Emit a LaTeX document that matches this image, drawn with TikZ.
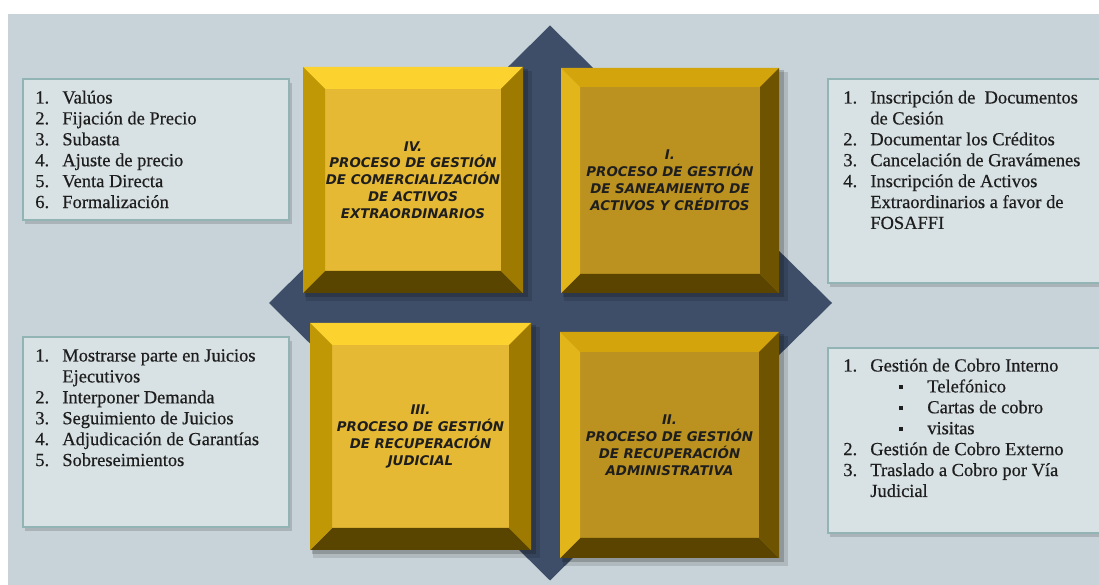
\documentclass[tikz,border=0pt]{standalone}
\usepackage{fontspec}
\setmainfont{Liberation Serif}
\newfontfamily\listfont{Liberation Serif}[FakeBold=0.5]
\newfontfamily\blockfont{DejaVu Sans}
\definecolor{backdrop}{HTML}{C8D3D9}
\definecolor{panel}{HTML}{D8E1E3}
\definecolor{panelline}{HTML}{93B4B5}
\definecolor{slate}{HTML}{3E4E68}
\definecolor{ink}{HTML}{1E1E1E}
\definecolor{goldface}{HTML}{E6B935}
\definecolor{goldtop}{HTML}{FCD22E}
\definecolor{goldleft}{HTML}{C09806}
\definecolor{goldright}{HTML}{9E7A00}
\definecolor{goldbottom}{HTML}{5A4500}
\definecolor{ochreface}{HTML}{BB9120}
\definecolor{ochretop}{HTML}{D4A40C}
\definecolor{ochreleft}{HTML}{E2B51A}
\definecolor{ochreright}{HTML}{6E5300}
\definecolor{ochrebottom}{HTML}{5A4400}
% bevelled block: x0, y0, x1, y1, colour set, bevel width
\newcommand{\bevelblock}[6]{%
  \fill[black,opacity=.12] (#1+.06,#2-.16) rectangle (#3+.18,#4-.08);
  \fill[black,opacity=.18] (#1+.04,#2-.09) rectangle (#3+.10,#4-.05);
  \fill[#5face] (#1,#2) rectangle (#3,#4);
  \fill[#5top] (#1,#4) -- (#3,#4) -- ({#3-#6},{#4-#6}) -- ({#1+#6},{#4-#6}) -- cycle;
  \fill[#5bottom] (#1,#2) -- (#3,#2) -- ({#3-#6},{#2+#6}) -- ({#1+#6},{#2+#6}) -- cycle;
  \fill[#5left] (#1,#2) -- (#1,#4) -- ({#1+#6},{#4-#6}) -- ({#1+#6},{#2+#6}) -- cycle;
  \fill[#5right] (#3,#2) -- (#3,#4) -- ({#3-#6},{#4-#6}) -- ({#3-#6},{#2+#6}) -- cycle;
}
\newcommand{\numitem}[2]{\makebox[.54cm][l]{#1}#2}
\newcommand{\bulletitem}[1]{\hspace*{1.12cm}\makebox[.56cm][l]{\raisebox{.07cm}{\rule{.07cm}{.07cm}}}#1}

\begin{document}
\begin{tikzpicture}[
  listtext/.style={anchor=north west,inner sep=0pt,align=left,text=ink,
    font=\listfont\fontsize{10.5}{11.9}\selectfont},
  blocktext/.style={align=center,text=ink,
    font=\blockfont\bfseries\itshape\fontsize{7.6}{9.6}\selectfont}]
\useasboundingbox (0,0) rectangle (21.98,11.70);
\fill[white] (0,0) rectangle (21.98,11.70);
\fill[backdrop] (.16,0) rectangle (21.98,11.42);
% the diamond behind the four blocks
\fill[slate] (11.00,11.19) -- (16.64,5.64) -- (11.00,.09) -- (5.38,5.64) -- cycle;
% list panels
\fill[black,opacity=.15] (.50,7.22) rectangle (5.84,10.04);
\filldraw[fill=panel,draw=panelline,line width=.6pt] (.46,7.30) rectangle (5.78,10.12);
\fill[black,opacity=.15] (16.60,5.96) rectangle (22.20,10.04);
\filldraw[fill=panel,draw=panelline,line width=.6pt] (16.56,6.04) rectangle (22.10,10.12);
\fill[black,opacity=.15] (.50,1.08) rectangle (5.84,4.88);
\filldraw[fill=panel,draw=panelline,line width=.6pt] (.46,1.16) rectangle (5.78,4.96);
\fill[black,opacity=.15] (16.60,.96) rectangle (22.20,4.66);
\filldraw[fill=panel,draw=panelline,line width=.6pt] (16.56,1.04) rectangle (22.10,4.74);
% the four process blocks
\bevelblock{6.06}{5.84}{10.46}{10.36}{gold}{.44}
\bevelblock{11.22}{5.84}{15.58}{10.34}{ochre}{.38}
\bevelblock{6.20}{.70}{10.62}{5.24}{gold}{.44}
\bevelblock{11.20}{.54}{15.58}{5.06}{ochre}{.40}
\node[blocktext] (comercializacion) at (8.26,8.10)
  {IV.\\PROCESO DE GESTIÓN\\DE COMERCIALIZACIÓN\\DE ACTIVOS\\EXTRAORDINARIOS};
\node[blocktext] (saneamiento) at (13.40,8.09)
  {I.\\PROCESO DE GESTIÓN\\DE SANEAMIENTO DE\\ACTIVOS Y CRÉDITOS};
\node[blocktext] (judicial) at (8.41,2.97)
  {III.\\PROCESO DE GESTIÓN\\DE RECUPERACIÓN\\JUDICIAL};
\node[blocktext] (administrativa) at (13.39,2.80)
  {II.\\PROCESO DE GESTIÓN\\DE RECUPERACIÓN\\ADMINISTRATIVA};
% what each process covers
\node[listtext] (tareasIV) at (.70,9.93)
  {\strut\numitem{1.}{Valúos}\\
   \numitem{2.}{Fijación de Precio}\\
   \numitem{3.}{Subasta}\\
   \numitem{4.}{Ajuste de precio}\\
   \numitem{5.}{Venta Directa}\\
   \numitem{6.}{Formalización}};
\node[listtext] (tareasI) at (16.86,9.93)
  {\strut\numitem{1.}{Inscripción de~ Documentos}\\
   \hspace*{.54cm}de Cesión\\
   \numitem{2.}{Documentar los Créditos}\\
   \numitem{3.}{Cancelación de Gravámenes}\\
   \numitem{4.}{Inscripción de Activos}\\
   \hspace*{.54cm}Extraordinarios a favor de\\
   \hspace*{.54cm}FOSAFFI};
\node[listtext] (tareasIII) at (.70,4.77)
  {\strut\numitem{1.}{Mostrarse parte en Juicios}\\
   \hspace*{.54cm}Ejecutivos\\
   \numitem{2.}{Interponer Demanda}\\
   \numitem{3.}{Seguimiento de Juicios}\\
   \numitem{4.}{Adjudicación de Garantías}\\
   \numitem{5.}{Sobreseimientos}};
\node[listtext] (tareasII) at (16.86,4.57)
  {\strut\numitem{1.}{Gestión de Cobro Interno}\\
   \bulletitem{Telefónico}\\
   \bulletitem{Cartas de cobro}\\
   \bulletitem{visitas}\\
   \numitem{2.}{Gestión de Cobro Externo}\\
   \numitem{3.}{Traslado a Cobro por Vía}\\
   \hspace*{.54cm}Judicial};
\end{tikzpicture}
\end{document}
